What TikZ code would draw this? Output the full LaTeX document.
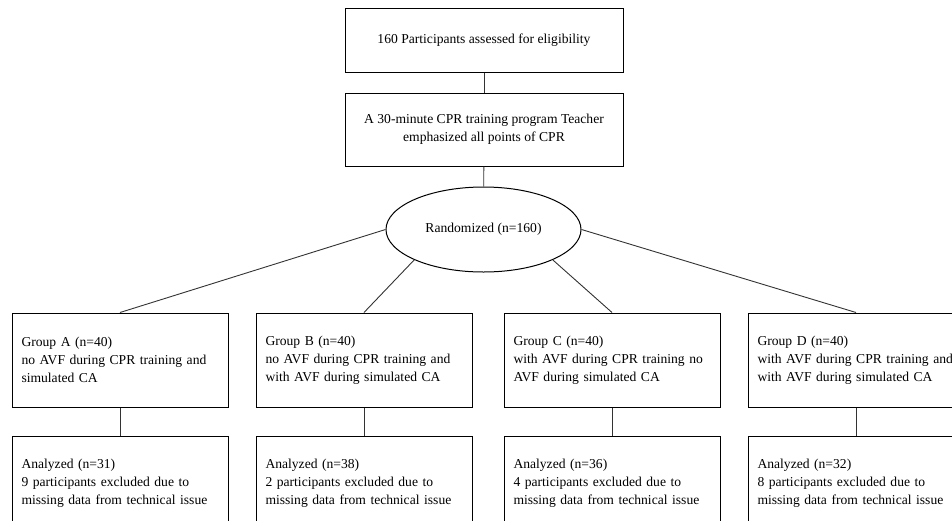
\documentclass[tikz,border=0pt]{standalone}
\usepackage{fontspec}
\setmainfont{Liberation Serif}
\usetikzlibrary{shapes.geometric}
\begin{document}
\begin{tikzpicture}[x=1pt,y=-1pt,
  txt/.style={font=\fontsize{13.6}{18}\selectfont},
  cbox/.style={draw,line width=1pt,txt,align=center,inner sep=0pt,minimum width=278pt},
  gbox/.style={draw,line width=1pt,txt,align=left,text width=197pt,inner xsep=9.5pt,inner ysep=0pt,minimum width=216pt,minimum height=94pt},
  conn/.style={draw=black!80,line width=0.9pt}]
\clip (0,0) rectangle (952,520);
\fill[white] (0,0) rectangle (952,520);
\node[cbox,minimum height=64pt] (top) at (484,40) {160 Participants assessed for eligibility};
\node[cbox,minimum height=73pt] (mid) at (484,129.5) {A 30-minute CPR training program Teacher\\emphasized all points of CPR};
\node[draw,line width=1pt,ellipse,minimum width=195pt,minimum height=85pt,inner sep=0pt,txt] (ell) at (483.5,229.5) {Randomized (n=160)};
\node[gbox] (ga) at (120,360) {Group A (n=40)\\\mbox{no AVF during CPR training and}\\simulated CA};
\node[gbox] (gb) at (364,360) {Group B (n=40)\\\mbox{no AVF during CPR training and}\\\mbox{with AVF during simulated CA}};
\node[gbox] (gc) at (612,360) {Group C (n=40)\\\mbox{with AVF during CPR training no}\\\mbox{AVF during simulated CA}};
\node[gbox] (gd) at (856,360) {Group D (n=40)\\\mbox{with AVF during CPR training and}\\\mbox{with AVF during simulated CA}};
\node[gbox] (aa) at (120,483) {Analyzed (n=31)\\\mbox{9 participants excluded due to}\\\mbox{missing data from technical issue}};
\node[gbox] (ab) at (364,483) {Analyzed (n=38)\\\mbox{2 participants excluded due to}\\\mbox{missing data from technical issue}};
\node[gbox] (ac) at (612,483) {Analyzed (n=36)\\\mbox{4 participants excluded due to}\\\mbox{missing data from technical issue}};
\node[gbox] (ad) at (856,483) {Analyzed (n=32)\\\mbox{8 participants excluded due to}\\\mbox{missing data from technical issue}};
\path[conn] (top) -- (mid);
\path[conn] (mid) -- (ell);
\path[conn] (ell.west) -- (ga.north);
\path[conn] (ell.south west) -- (gb.north);
\path[conn] (ell.south east) -- (gc.north);
\path[conn] (ell.east) -- (gd.north);
\path[conn] (ga) -- (aa);
\path[conn] (gb) -- (ab);
\path[conn] (gc) -- (ac);
\path[conn] (gd) -- (ad);
\end{tikzpicture}
\end{document}
